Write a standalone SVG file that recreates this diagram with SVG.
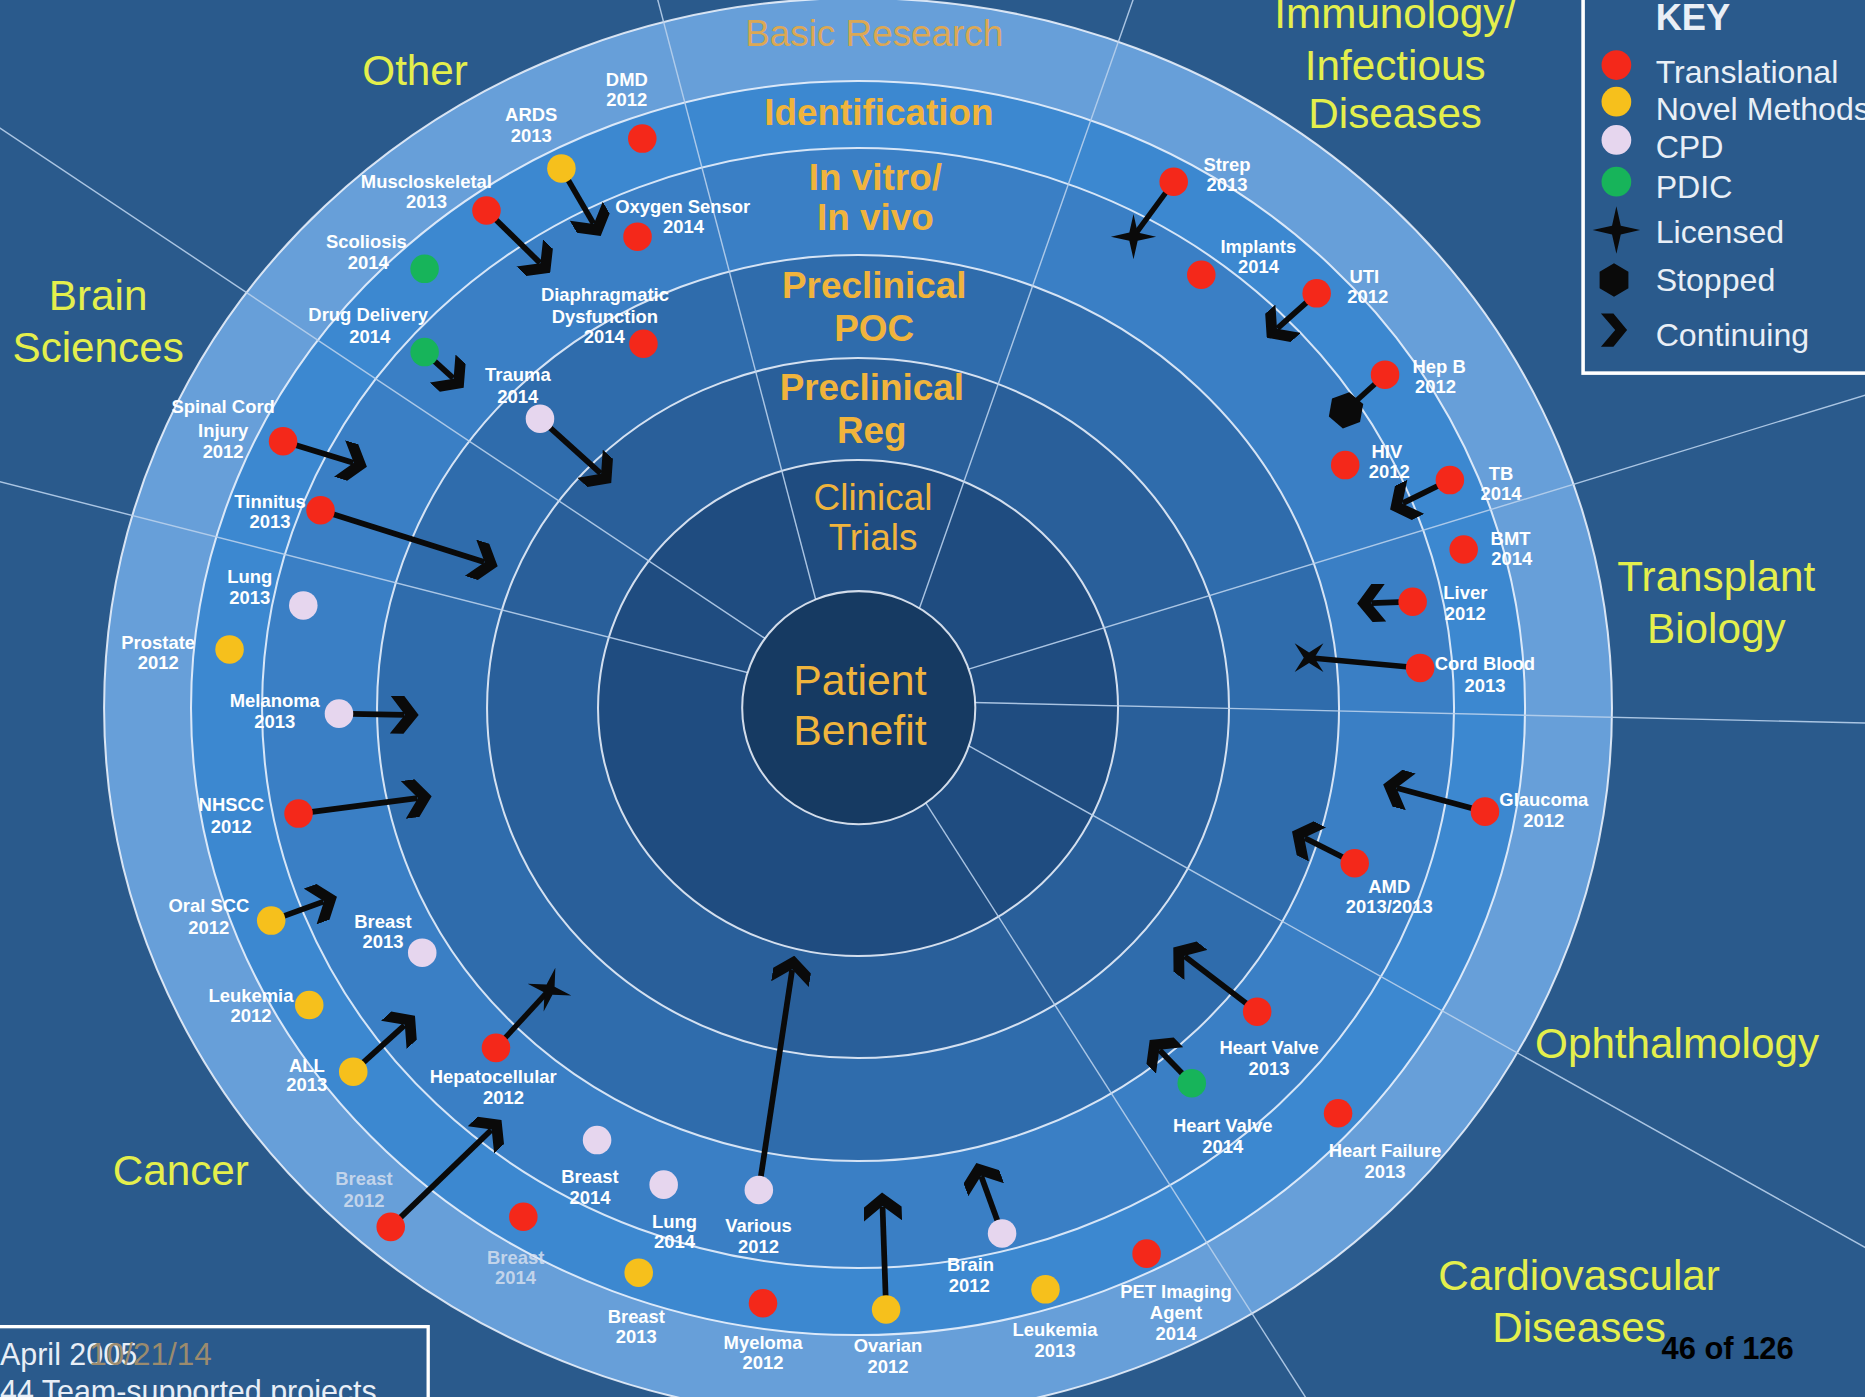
<svg xmlns="http://www.w3.org/2000/svg" width="1865" height="1397" viewBox="0 0 1865 1397">
  <style>
    .lbl { font-family: "Liberation Sans", Arial, sans-serif; font-weight: bold; font-size: 15.5px; fill: #ffffff; text-anchor: middle; }
    .dim { fill: #d4deee; fill-opacity: 0.85; }
    .cat { font-family: "Liberation Sans", Arial, sans-serif; font-size: 35.5px; fill: #e4ef4c; text-anchor: middle; }
    .stage { font-family: "Liberation Sans", Arial, sans-serif; font-size: 31px; font-weight: bold; fill: #f0b43c; text-anchor: middle; }
    .stage-r { font-weight: normal; }
    .key { font-family: "Liberation Sans", Arial, sans-serif; font-size: 27px; fill: #e9eff6; }
    .t { fill: #f4281a; }
    .n { fill: #f6c01c; }
    .c { fill: #e6d6ee; }
    .p { fill: #17b45a; }
    .ring { stroke: #f2f7ff; stroke-width: 1.7; stroke-opacity: 0.85; }
    .div { stroke: #b8d0ec; stroke-width: 1.2; stroke-opacity: 0.9; }
    .arrow { stroke: #0a0a0a; stroke-width: 4.8; fill: none; marker-end: url(#chev); }
    .link { stroke: #0a0a0a; stroke-width: 4.5; fill: none; }
    .sym { fill: #0a0a0a; }
  </style>
  <defs>
    <marker id="chev" markerUnits="userSpaceOnUse" viewBox="0 0 24 32" refX="12" refY="16" markerWidth="24" markerHeight="32" orient="auto">
      <path d="M0,0 L11.5,0 L24,16 L11.5,32 L0,32 L12.5,16 Z" fill="#0a0a0a"/>
    </marker>
    <path id="star" d="M0,-19 L3.5,-3.5 L19,0 L3.5,3.5 L0,19 L-3.5,3.5 L-19,0 L-3.5,-3.5 Z"/>
    <path id="hex" d="M0,-14 L12.1,-7 L12.1,7 L0,14 L-12.1,7 L-12.1,-7 Z"/>
    <path id="chevron" d="M-11,-14 L-0.5,-14 L11,0 L-0.5,14 L-11,14 L1,0 Z"/>
  </defs>

  <rect x="0" y="0" width="1865" height="1397" fill="#2a5a8c"/>

  <g transform="scale(1.1894)">
    <!-- stage bands, outermost first -->
    <g id="bands">
      <ellipse cx="721.4" cy="595.3" rx="633.9" ry="596.9" fill="#679fd9" class="ring"/>
      <ellipse cx="721.4" cy="595.3" rx="560.8" ry="527.2" fill="#3c88d0" class="ring"/>
      <ellipse cx="721.4" cy="595.3" rx="501.1" ry="470.8" fill="#3a7fc5" class="ring"/>
      <ellipse cx="721.4" cy="595.3" rx="404.4" ry="380.9" fill="#2f6cac" class="ring"/>
      <ellipse cx="721.4" cy="595.3" rx="311.9" ry="294.3" fill="#295f9a" class="ring"/>
      <ellipse cx="721.4" cy="595.3" rx="218.6" ry="208.5" fill="#1f4c80" class="ring"/>
    </g>

    <!-- sector dividers -->
    <g id="dividers" class="div">
      <line x1="552" y1="-4" x2="690" y2="520"/>
      <line x1="954" y1="-4" x2="770" y2="520"/>
      <line x1="1572" y1="331" x2="800" y2="567"/>
      <line x1="1572" y1="608" x2="790" y2="590"/>
      <line x1="1572" y1="1051" x2="800" y2="619"/>
      <line x1="1101" y1="1180" x2="770" y2="662"/>
      <line x1="-4" y1="404" x2="650" y2="571"/>
      <line x1="-4" y1="105" x2="660" y2="548"/>
    </g>

    <circle id="patient-core" cx="722" cy="595" r="98" fill="#163a62" class="ring"/>

    <!-- stage labels -->
    <g id="stages">
      <text class="stage stage-r" x="735" y="39" style="fill:#dca854">Basic Research</text>
      <text class="stage" x="739" y="105">Identification</text>
      <text class="stage" x="736" y="159.6">In vitro/</text>
      <text class="stage" x="736" y="193.2">In vivo</text>
      <text class="stage" x="735" y="250.6">Preclinical</text>
      <text class="stage" x="735" y="287">POC</text>
      <text class="stage" x="733" y="336">Preclinical</text>
      <text class="stage" x="733" y="372.5">Reg</text>
      <text class="stage stage-r" x="734" y="428.6">Clinical</text>
      <text class="stage stage-r" x="734" y="462">Trials</text>
      <text class="stage stage-r" x="723" y="584.3" style="font-size:36px">Patient</text>
      <text class="stage stage-r" x="723" y="626.4" style="font-size:36px">Benefit</text>
    </g>

    <!-- research areas -->
    <g id="areas">
      <text class="cat" x="349" y="71.5">Other</text>
      <text class="cat" x="82.5" y="260.5">Brain</text>
      <text class="cat" x="82.5" y="304">Sciences</text>
      <text class="cat" x="1173" y="23.7">Immunology/</text>
      <text class="cat" x="1173" y="67">Infectious</text>
      <text class="cat" x="1173" y="107.8">Diseases</text>
      <text class="cat" x="1443" y="497.3">Transplant</text>
      <text class="cat" x="1443" y="540.5">Biology</text>
      <text class="cat" x="1410" y="889.5">Ophthalmology</text>
      <text class="cat" x="152" y="996.2">Cancer</text>
      <text class="cat" x="1327.6" y="1084.5">Cardiovascular</text>
      <text class="cat" x="1327.6" y="1127.9">Diseases</text>
    </g>

    <!-- progress connectors -->
    <g id="connectors">
      <line class="arrow" x1="472" y1="141.6" x2="499" y2="188"/>
      <line class="arrow" x1="409" y1="177" x2="454" y2="221"/>
      <line class="arrow" x1="357" y1="296" x2="381" y2="318"/>
      <line class="arrow" x1="454" y1="352" x2="505" y2="398"/>
      <line class="arrow" x1="238" y1="371" x2="297" y2="389"/>
      <line class="arrow" x1="269.5" y1="429" x2="407" y2="472.5"/>
      <line class="arrow" x1="285" y1="600" x2="340" y2="601"/>
      <line class="arrow" x1="251" y1="684" x2="351" y2="671"/>
      <line class="arrow" x1="228" y1="774" x2="272" y2="758"/>
      <line class="arrow" x1="297" y1="901" x2="340" y2="862"/>
      <line class="link" x1="417" y1="881" x2="462" y2="832"/>
      <use href="#star" class="sym" transform="translate(462 832) rotate(15)"/>
      <line class="arrow" x1="328.5" y1="1031.5" x2="413" y2="950"/>
      <line class="arrow" x1="638" y1="1000.5" x2="666" y2="815.5"/>
      <line class="arrow" x1="745" y1="1101" x2="742" y2="1014.5"/>
      <line class="arrow" x1="842.5" y1="1037" x2="825" y2="989"/>
      <line class="arrow" x1="1002" y1="910.7" x2="975" y2="883"/>
      <line class="arrow" x1="1057" y1="850.6" x2="996" y2="804"/>
      <line class="arrow" x1="1139" y1="725.8" x2="1097" y2="704.6"/>
      <line class="arrow" x1="1248.5" y1="682.4" x2="1174.5" y2="662.6"/>
      <line class="link" x1="1194" y1="561.6" x2="1100.6" y2="553"/>
      <use href="#star" class="sym" transform="translate(1100.6 553) rotate(45) scale(0.9)"/>
      <line class="arrow" x1="1187.7" y1="505.9" x2="1153" y2="507"/>
      <line class="arrow" x1="1219" y1="403.6" x2="1179.5" y2="423"/>
      <line class="link" x1="1164.5" y1="315" x2="1131.7" y2="345"/>
      <use href="#hex" class="sym" transform="translate(1131.7 345) rotate(10) scale(1.1)"/>
      <line class="arrow" x1="1107" y1="246.6" x2="1074" y2="276"/>
      <line class="link" x1="986.8" y1="152.8" x2="953" y2="199"/>
      <use href="#star" class="sym" transform="translate(953 199)"/>
    </g>

    <!-- projects -->
    <g id="node-dmd"><circle class="t" cx="540" cy="116.5" r="12"/><text class="lbl" x="527" y="72.7">DMD</text><text class="lbl" x="527" y="89.4">2012</text></g>
    <g id="node-ards"><circle class="n" cx="472" cy="141.6" r="12"/><text class="lbl" x="446.6" y="102">ARDS</text><text class="lbl" x="446.6" y="119">2013</text></g>
    <g id="node-muscloskeletal"><circle class="t" cx="409" cy="177" r="12"/><text class="lbl" x="358.5" y="158.2">Muscloskeletal</text><text class="lbl" x="358.5" y="175">2013</text></g>
    <g id="node-oxygen-sensor"><circle class="t" cx="536" cy="199" r="12"/><text class="lbl" x="574" y="179.2">Oxygen Sensor</text><text class="lbl" x="574.7" y="196">2014</text></g>
    <g id="node-scoliosis"><circle class="p" cx="357" cy="226" r="12"/><text class="lbl" x="308" y="208.4">Scoliosis</text><text class="lbl" x="309.7" y="226.4">2014</text></g>
    <g id="node-drug-delivery"><circle class="p" cx="357" cy="296" r="12"/><text class="lbl" x="309.6" y="270.2">Drug Delivery</text><text class="lbl" x="310.8" y="288.4">2014</text></g>
    <g id="node-diaphragmatic"><circle class="t" cx="541" cy="289" r="12"/><text class="lbl" x="508.6" y="253.4">Diaphragmatic</text><text class="lbl" x="508.6" y="271.4">Dysfunction</text><text class="lbl" x="508" y="288.4">2014</text></g>
    <g id="node-trauma"><circle class="c" cx="454" cy="352" r="12"/><text class="lbl" x="435.4" y="320.4">Trauma</text><text class="lbl" x="435.4" y="339">2014</text></g>
    <g id="node-spinal-cord"><circle class="t" cx="238" cy="371" r="12"/><text class="lbl" x="187.6" y="347.4">Spinal Cord</text><text class="lbl" x="187.6" y="367">Injury</text><text class="lbl" x="187.6" y="385.2">2012</text></g>
    <g id="node-tinnitus"><circle class="t" cx="269.5" cy="429" r="12"/><text class="lbl" x="227" y="427.2">Tinnitus</text><text class="lbl" x="227" y="444">2013</text></g>
    <g id="node-lung-2013"><circle class="c" cx="255" cy="509" r="12"/><text class="lbl" x="210" y="490.4">Lung</text><text class="lbl" x="210" y="507.4">2013</text></g>
    <g id="node-prostate"><circle class="n" cx="193" cy="546" r="12"/><text class="lbl" x="133" y="545.4">Prostate</text><text class="lbl" x="133" y="562.4">2012</text></g>
    <g id="node-melanoma"><circle class="c" cx="285" cy="600" r="12"/><text class="lbl" x="231" y="594.4">Melanoma</text><text class="lbl" x="231" y="612.2">2013</text></g>
    <g id="node-nhscc"><circle class="t" cx="251" cy="684" r="12"/><text class="lbl" x="194.5" y="682.2">NHSCC</text><text class="lbl" x="194.5" y="700">2012</text></g>
    <g id="node-oral-scc"><circle class="n" cx="228" cy="774" r="12"/><text class="lbl" x="175.6" y="767">Oral SCC</text><text class="lbl" x="175.6" y="785">2012</text></g>
    <g id="node-breast-2013a"><circle class="c" cx="355" cy="801" r="12"/><text class="lbl" x="322" y="780.4">Breast</text><text class="lbl" x="322" y="797">2013</text></g>
    <g id="node-leukemia-2012"><circle class="n" cx="260" cy="845" r="12"/><text class="lbl" x="211" y="842.8">Leukemia</text><text class="lbl" x="211" y="859.4">2012</text></g>
    <g id="node-all"><circle class="n" cx="297" cy="901" r="12"/><text class="lbl" x="258" y="901">ALL</text><text class="lbl" x="258" y="917.4">2013</text></g>
    <g id="node-hepatocellular"><circle class="t" cx="417" cy="881" r="12"/><text class="lbl" x="414.7" y="910.4">Hepatocellular</text><text class="lbl" x="423.4" y="928">2012</text></g>
    <g id="node-breast-2012"><circle class="t" cx="328.5" cy="1031.5" r="12"/><text class="lbl dim" x="306" y="996.7">Breast</text><text class="lbl dim" x="306" y="1015">2012</text></g>
    <g id="node-breast-2014a"><circle class="c" cx="502" cy="958.5" r="12"/><text class="lbl" x="496" y="995">Breast</text><text class="lbl" x="496" y="1012">2014</text></g>
    <g id="node-breast-2014b"><circle class="t" cx="440" cy="1023" r="12"/><text class="lbl dim" x="433.5" y="1062.4">Breast</text><text class="lbl dim" x="433.5" y="1079.4">2014</text></g>
    <g id="node-lung-2014"><circle class="c" cx="558" cy="996" r="12"/><text class="lbl" x="567" y="1032.4">Lung</text><text class="lbl" x="567" y="1049.4">2014</text></g>
    <g id="node-various"><circle class="c" cx="638" cy="1000.5" r="12"/><text class="lbl" x="637.7" y="1035.4">Various</text><text class="lbl" x="637.7" y="1053.4">2012</text></g>
    <g id="node-breast-2013b"><circle class="n" cx="537" cy="1070" r="12"/><text class="lbl" x="535" y="1112.4">Breast</text><text class="lbl" x="535" y="1129.4">2013</text></g>
    <g id="node-myeloma"><circle class="t" cx="641.5" cy="1095.7" r="12"/><text class="lbl" x="641.5" y="1134.4">Myeloma</text><text class="lbl" x="641.5" y="1151.4">2012</text></g>
    <g id="node-ovarian"><circle class="n" cx="745" cy="1101" r="12"/><text class="lbl" x="746.6" y="1136.4">Ovarian</text><text class="lbl" x="746.6" y="1154">2012</text></g>
    <g id="node-brain"><circle class="c" cx="842.5" cy="1037" r="12"/><text class="lbl" x="816" y="1069">Brain</text><text class="lbl" x="815" y="1086.4">2012</text></g>
    <g id="node-leukemia-2013"><circle class="n" cx="879" cy="1084" r="12"/><text class="lbl" x="887" y="1123.4">Leukemia</text><text class="lbl" x="887" y="1141">2013</text></g>
    <g id="node-pet-imaging"><circle class="t" cx="964" cy="1054" r="12"/><text class="lbl" x="988.7" y="1091.4">PET Imaging</text><text class="lbl" x="988.7" y="1109">Agent</text><text class="lbl" x="988.7" y="1126.2">2014</text></g>
    <g id="node-heart-failure"><circle class="t" cx="1125" cy="936" r="12"/><text class="lbl" x="1164.5" y="973">Heart Failure</text><text class="lbl" x="1164.5" y="990.4">2013</text></g>
    <g id="node-heart-valve-2014"><circle class="p" cx="1002" cy="910.7" r="12"/><text class="lbl" x="1028" y="951.4">Heart Valve</text><text class="lbl" x="1028" y="969">2014</text></g>
    <g id="node-heart-valve-2013"><circle class="t" cx="1057" cy="850.6" r="12"/><text class="lbl" x="1067" y="886.4">Heart Valve</text><text class="lbl" x="1067" y="903.4">2013</text></g>
    <g id="node-amd"><circle class="t" cx="1139" cy="725.8" r="12"/><text class="lbl" x="1168" y="750.4">AMD</text><text class="lbl" x="1168" y="768">2013/2013</text></g>
    <g id="node-glaucoma"><circle class="t" cx="1248.5" cy="682.4" r="12"/><text class="lbl" x="1298" y="678">Glaucoma</text><text class="lbl" x="1298" y="695.4">2012</text></g>
    <g id="node-cord-blood"><circle class="t" cx="1194" cy="561.6" r="12"/><text class="lbl" x="1248.5" y="563">Cord Blood</text><text class="lbl" x="1248.5" y="581.4">2013</text></g>
    <g id="node-liver"><circle class="t" cx="1187.7" cy="505.9" r="12"/><text class="lbl" x="1232" y="503.4">Liver</text><text class="lbl" x="1232" y="521">2012</text></g>
    <g id="node-bmt"><circle class="t" cx="1230.6" cy="462" r="12"/><text class="lbl" x="1270" y="458">BMT</text><text class="lbl" x="1271" y="475.4">2014</text></g>
    <g id="node-tb"><circle class="t" cx="1219" cy="403.6" r="12"/><text class="lbl" x="1262" y="403.2">TB</text><text class="lbl" x="1262" y="420">2014</text></g>
    <g id="node-hiv"><circle class="t" cx="1131" cy="391" r="12"/><text class="lbl" x="1166" y="385">HIV</text><text class="lbl" x="1168" y="402">2012</text></g>
    <g id="node-hep-b"><circle class="t" cx="1164.5" cy="315" r="12"/><text class="lbl" x="1210" y="313.4">Hep B</text><text class="lbl" x="1207" y="330.4">2012</text></g>
    <g id="node-uti"><circle class="t" cx="1107" cy="246.6" r="12"/><text class="lbl" x="1147" y="238">UTI</text><text class="lbl" x="1150" y="254.8">2012</text></g>
    <g id="node-implants"><circle class="t" cx="1010" cy="231" r="12"/><text class="lbl" x="1058" y="212.8">Implants</text><text class="lbl" x="1058" y="229.6">2014</text></g>
    <g id="node-strep"><circle class="t" cx="986.8" cy="152.8" r="12"/><text class="lbl" x="1031.6" y="144">Strep</text><text class="lbl" x="1031.6" y="161">2013</text></g>

    <!-- legend -->
    <g id="key">
      <rect x="1331" y="-6" width="260" height="319.7" fill="none" stroke="#ffffff" stroke-width="3"/>
      <text class="key" x="1392" y="25" style="font-weight:bold;font-size:30.5px">KEY</text>
      <circle class="t" cx="1359" cy="54.7" r="12.5"/><text class="key" x="1392" y="69.8">Translational</text>
      <circle class="n" cx="1359" cy="85.5" r="12.5"/><text class="key" x="1392" y="100.5">Novel Methods</text>
      <circle class="c" cx="1359" cy="117.7" r="12.5"/><text class="key" x="1392" y="132.5">CPD</text>
      <circle class="p" cx="1359" cy="152.8" r="12.5"/><text class="key" x="1392" y="166.5">PDIC</text>
      <use href="#star" class="sym" transform="translate(1359 193.4) scale(1.05)"/><text class="key" x="1392" y="204.3">Licensed</text>
      <use href="#hex" class="sym" transform="translate(1357 235.4)"/><text class="key" x="1392" y="245">Stopped</text>
      <use href="#chevron" class="sym" transform="translate(1357 277.5)"/><text class="key" x="1392" y="291">Continuing</text>
    </g>

    <!-- footer -->
    <g id="footer">
      <rect x="-6" y="1115.4" width="366" height="80" fill="none" stroke="#ffffff" stroke-width="2.8"/>
      <text x="0" y="1147.6" style="font-family:'Liberation Sans',Arial,sans-serif;font-size:25.6px;fill:#e8eef6">April 2005</text>
      <text x="75" y="1147.6" style="font-family:'Liberation Sans',Arial,sans-serif;font-size:26.5px;fill:#9b8b6e">10/21/14</text>
      <text x="0" y="1178.5" style="font-family:'Liberation Sans',Arial,sans-serif;font-size:25.6px;fill:#e8eef6">44 Team-supported projects</text>
      <text x="1452.5" y="1142.5" style="font-family:'Liberation Sans',Arial,sans-serif;font-size:26px;font-weight:bold;fill:#000000;text-anchor:middle">46 of 126</text>
    </g>
  </g>
</svg>
